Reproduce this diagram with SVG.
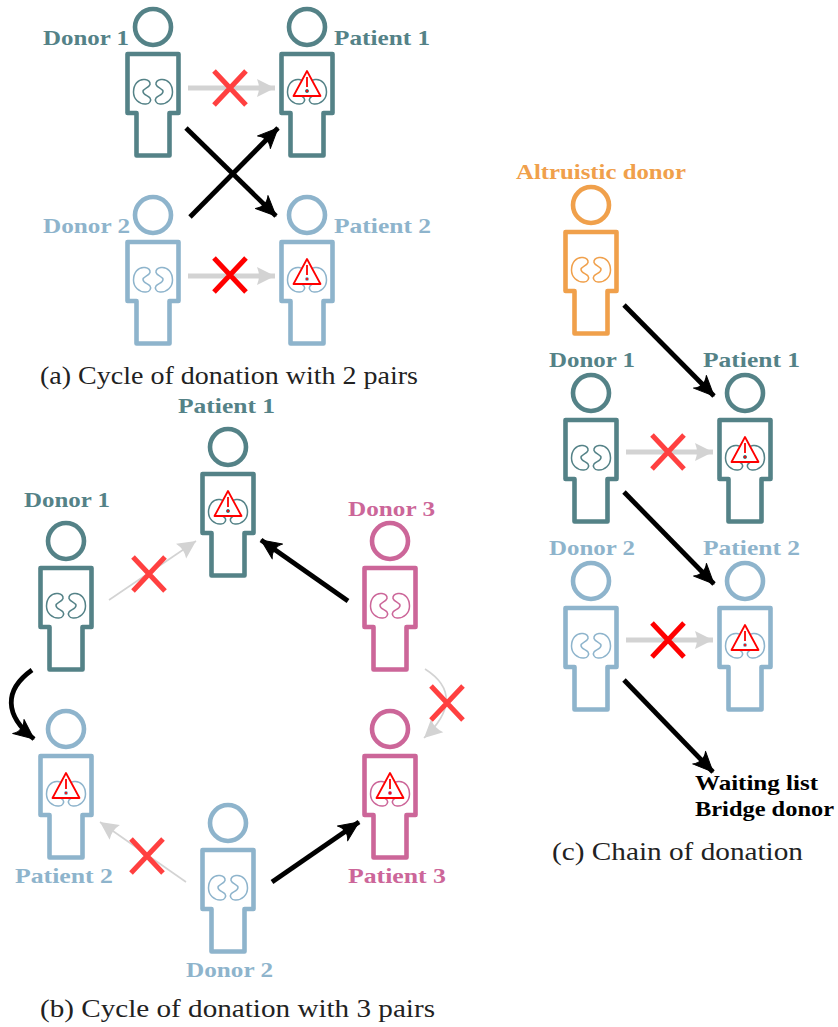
<svg xmlns="http://www.w3.org/2000/svg" xmlns:xlink="http://www.w3.org/1999/xlink" width="838" height="1027" viewBox="0 0 838 1027">
<style>
text{font-family:"Liberation Serif","Times New Roman",serif}
.l{font-weight:bold;font-size:22px}
.c{font-size:25px;fill:#222}
.teal{stroke:#548287;fill:#548287;color:#548287}
.blue{stroke:#8eb4cc;fill:#8eb4cc;color:#8eb4cc}
.orange{stroke:#f0a04b;fill:#f0a04b;color:#f0a04b}
.pink{stroke:#cc6699;fill:#cc6699;color:#cc6699}
text.teal{stroke:none}text.blue{stroke:none}text.orange{stroke:none}text.pink{stroke:none}
.b{fill:none;stroke-width:4.6;stroke-linejoin:round}
.k{fill:none;stroke-width:1.5}
.blk{fill:none;stroke:#000;stroke-width:4.8}
.gt{fill:none;stroke:#d3d3d3;stroke-width:4.8}
.gn{fill:none;stroke:#d3d3d3;stroke-width:1.6}
.x{fill:none;stroke:#f00;stroke-width:5}
.xl{fill:none;stroke:#ff4040;stroke-width:5}
</style>
<defs>
<marker id="ab" markerUnits="userSpaceOnUse" markerWidth="28" markerHeight="28" refX="24" refY="14" orient="auto"><path d="M4 5 Q8 10 7 14 Q8 18 4 23 L24 14Z" fill="#000" stroke="#000" stroke-width="1" stroke-linejoin="round"/></marker>
<marker id="ag" markerUnits="userSpaceOnUse" markerWidth="28" markerHeight="28" refX="24" refY="14" orient="auto"><path d="M6 5 Q8 10 8 14 Q8 18 6 23 L24 14Z" fill="#d3d3d3"/></marker>
<g id="person">
<circle cx="0" cy="0" r="18" class="b"/>
<path class="b" d="M-25.5 27H25.5V86H16.5V128.5H-16.5V86H-25.5Z"/>
<path id="kid" class="k" d="M-8 52.5C-15 51.5-19.5 58-19.5 65C-19.5 72-14 77.5-7 77C-3 77-1.5 73-3 71C-5 68.5-10 68-10 64.5C-10 61.5-4 61-3 57.5C-2.5 54-5 53-8 52.5Z"/>
<use href="#kid" transform="scale(-1,1)"/>
</g>
<g id="warn">
<path d="M0 44L13.5 69H-13.5Z" fill="#fff" stroke="#f00" stroke-width="1.8" stroke-linejoin="round"/>
<path d="M0 50V60" stroke="#f00" stroke-width="1.8" fill="none"/>
<circle cx="0" cy="64" r="1.6" fill="#f00"/>
</g>
<path id="cross" d="M-16-17L16 17M16-17L-16 17"/>
</defs>

<g id="a-donor1" class="teal"><use href="#person" x="153" y="27"/><text class="l teal" x="43" y="45" textLength="86" lengthAdjust="spacingAndGlyphs">Donor 1</text></g>
<g id="a-patient1" class="teal"><use href="#person" x="307" y="27"/><use href="#warn" x="307" y="27"/><text class="l teal" x="334" y="45" textLength="96" lengthAdjust="spacingAndGlyphs">Patient 1</text></g>
<g id="a-donor2" class="blue"><use href="#person" x="153" y="215"/><text class="l blue" x="43" y="233" textLength="87" lengthAdjust="spacingAndGlyphs">Donor 2</text></g>
<g id="a-patient2" class="blue"><use href="#person" x="307" y="215"/><use href="#warn" x="307" y="215"/><text class="l blue" x="334" y="233" textLength="97" lengthAdjust="spacingAndGlyphs">Patient 2</text></g>

<g id="c-altruistic" class="orange"><use href="#person" x="591" y="205"/><text class="l orange" x="516" y="179" textLength="170" lengthAdjust="spacingAndGlyphs">Altruistic donor</text></g>
<g id="c-donor1" class="teal"><use href="#person" x="591" y="393"/><text class="l teal" x="549" y="367" textLength="86" lengthAdjust="spacingAndGlyphs">Donor 1</text></g>
<g id="c-patient1" class="teal"><use href="#person" x="745" y="393"/><use href="#warn" x="745" y="393"/><text class="l teal" x="703" y="367" textLength="97" lengthAdjust="spacingAndGlyphs">Patient 1</text></g>
<g id="c-donor2" class="blue"><use href="#person" x="591" y="581"/><text class="l blue" x="549" y="555" textLength="86" lengthAdjust="spacingAndGlyphs">Donor 2</text></g>
<g id="c-patient2" class="blue"><use href="#person" x="745" y="581"/><use href="#warn" x="745" y="581"/><text class="l blue" x="703" y="555" textLength="97" lengthAdjust="spacingAndGlyphs">Patient 2</text></g>
<g id="c-waiting"><text class="l" x="695" y="790" textLength="123" lengthAdjust="spacingAndGlyphs">Waiting list</text><text class="l" x="695" y="816" textLength="139" lengthAdjust="spacingAndGlyphs">Bridge donor</text></g>

<g id="b-patient1" class="teal"><use href="#person" x="228" y="447"/><use href="#warn" x="228" y="447"/><text class="l teal" x="178" y="413" textLength="97" lengthAdjust="spacingAndGlyphs">Patient 1</text></g>
<g id="b-donor1" class="teal"><use href="#person" x="66" y="541"/><text class="l teal" x="24" y="507" textLength="86" lengthAdjust="spacingAndGlyphs">Donor 1</text></g>
<g id="b-donor3" class="pink"><use href="#person" x="390" y="541"/><text class="l pink" x="348" y="516" textLength="87" lengthAdjust="spacingAndGlyphs">Donor 3</text></g>
<g id="b-patient2" class="blue"><use href="#person" x="66" y="729"/><use href="#warn" x="66" y="729"/><text class="l blue" x="15" y="883" textLength="98" lengthAdjust="spacingAndGlyphs">Patient 2</text></g>
<g id="b-patient3" class="pink"><use href="#person" x="390" y="729"/><use href="#warn" x="390" y="729"/><text class="l pink" x="348" y="883" textLength="98" lengthAdjust="spacingAndGlyphs">Patient 3</text></g>
<g id="b-donor2" class="blue"><use href="#person" x="228" y="823"/><text class="l blue" x="186" y="977" textLength="87" lengthAdjust="spacingAndGlyphs">Donor 2</text></g>

<g id="connectors">
<path class="gt" d="M188 88H275" marker-end="url(#ag)"/>
<path class="gt" d="M188 276H275" marker-end="url(#ag)"/>
<path class="blk" d="M186 128L276 216" marker-end="url(#ab)"/>
<path class="blk" d="M190 217L278 128" marker-end="url(#ab)"/>
<path class="blk" d="M624 305L714 396" marker-end="url(#ab)"/>
<path class="gt" d="M626 452H713" marker-end="url(#ag)"/>
<path class="blk" d="M624 492L714 584" marker-end="url(#ab)"/>
<path class="gt" d="M626 640H713" marker-end="url(#ag)"/>
<path class="blk" d="M624 680L713 772" marker-end="url(#ab)"/>
<path class="gn" d="M109 600L196 541" marker-end="url(#ag)"/>
<path class="blk" d="M348 601L261 540" marker-end="url(#ab)"/>
<path class="gn" d="M425 669C455 688 452 712 424 738" marker-end="url(#ag)"/>
<path class="blk" d="M32 670C4 690 4 715 34 739" marker-end="url(#ab)"/>
<path class="gn" d="M186 882L100 822" marker-end="url(#ag)"/>
<path class="blk" d="M272 882L359 822" marker-end="url(#ab)"/>
<use href="#cross" class="xl" x="230" y="88"/>
<use href="#cross" class="x" x="230" y="275"/>
<use href="#cross" class="xl" x="668" y="452"/>
<use href="#cross" class="x" x="668" y="640"/>
<use href="#cross" class="xl" x="149" y="574"/>
<use href="#cross" class="xl" x="447" y="703"/>
<use href="#cross" class="xl" x="147" y="856"/>
</g>

<g id="captions">
<text class="c" x="40" y="384" textLength="378" lengthAdjust="spacingAndGlyphs">(a) Cycle of donation with 2 pairs</text>
<text class="c" x="40" y="1017" textLength="395" lengthAdjust="spacingAndGlyphs">(b) Cycle of donation with 3 pairs</text>
<text class="c" x="552" y="860" textLength="251" lengthAdjust="spacingAndGlyphs">(c) Chain of donation</text>
</g>
</svg>
